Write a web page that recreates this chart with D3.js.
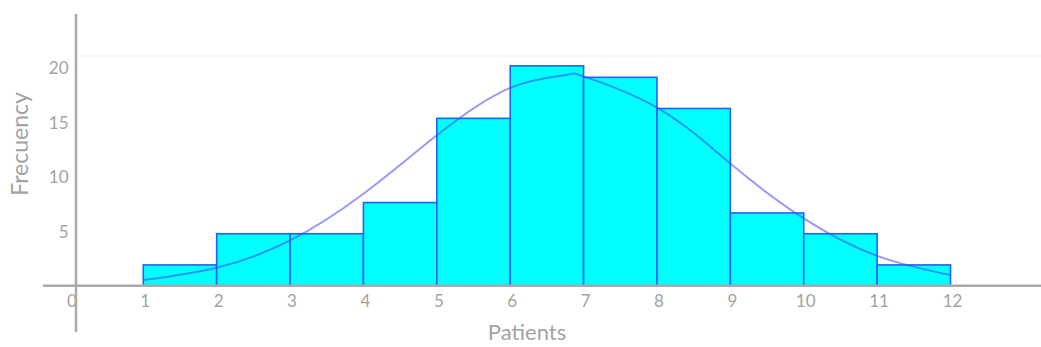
<!DOCTYPE html>
<html>
<head>
<meta charset="utf-8">
<script src="https://cdn.jsdelivr.net/npm/d3@7"></script>
<style>
  html, body { margin: 0; padding: 0; background: #ffffff; }
  svg { display: block; }
  text { font-family: Lato, "Open Sans", sans-serif; fill: #a3a3a3; }
</style>
</head>
<body>
<svg id="chart" width="1041" height="347"></svg>
<script>
// ---- data ----
const binStarts = [1, 2, 3, 4, 5, 6, 7, 8, 9, 10, 11];
const binEnds   = [2, 3, 4, 5, 6, 7, 8, 9, 10, 11, 12];
const frequencies = [1.9, 4.75, 4.75, 7.6, 15.3, 20.1, 19.05, 16.2, 6.65, 4.75, 1.9];

const curveX = [1, 2, 3, 4, 5, 6, 6.76, 7, 8, 9, 10, 11, 12];
const curveY = [0.52, 1.64, 4.14, 8.41, 13.75, 18.09, 19.26, 19.14, 16.29, 11.17, 6.15, 2.73, 0.97];

const xTickValues = [0, 1, 2, 3, 4, 5, 6, 7, 8, 9, 10, 11, 12];
const yTickValues = [5, 10, 15, 20];
const xTitle = "Patients";
const yTitle = "Frecuency";

// ---- layout ----
const svg = d3.select("#chart");
const x = d3.scaleLinear().domain([0, 12]).range([69.9, 950.5]);
const y = d3.scaleLinear().domain([0, 21]).range([285.7, 56]);
const axisX = 76;          // where the vertical axis line is drawn
const axisColor = "#aaaaaa";

// faint top gridline
svg.append("line")
  .attr("x1", axisX).attr("x2", 1041)
  .attr("y1", y(21)).attr("y2", y(21))
  .attr("stroke", "#f0f0f0").attr("stroke-width", 1);

// bars
const bins = binStarts.map((s, i) => ({ x0: s, x1: binEnds[i], v: frequencies[i] }));
svg.append("g").selectAll("rect").data(bins).join("rect")
  .attr("x", d => x(d.x0))
  .attr("y", d => y(d.v))
  .attr("width", d => x(d.x1) - x(d.x0))
  .attr("height", d => y(0) - y(d.v))
  .attr("fill", "#00ffff")
  .attr("stroke", "#1f62ff")
  .attr("stroke-width", 1.6);

// normal curve
const line = d3.line()
  .x((d, i) => x(curveX[i]))
  .y(d => y(d))
  .curve(d3.curveNatural);
svg.append("path")
  .attr("d", line(curveY))
  .attr("fill", "none")
  .attr("stroke", "rgba(70,70,240,0.55)")
  .attr("stroke-width", 2);

// x axis (line + labels)
svg.append("line")
  .attr("x1", 43).attr("x2", 1041)
  .attr("y1", y(0)).attr("y2", y(0))
  .attr("stroke", axisColor).attr("stroke-width", 2.5);

const xAxis = d3.axisBottom(x).tickValues(xTickValues).tickSize(0).tickPadding(0).tickFormat(d3.format("d"));
const gx = svg.append("g").attr("transform", `translate(1.5,${y(0) + 21})`).call(xAxis);
gx.select(".domain").remove();
gx.selectAll("text")
  .attr("dy", 0)
  .style("font-size", "17px")
  .style("fill", "#a3a3a3")
  .style("font-family", "Lato, 'Open Sans', sans-serif");

// y axis (line + labels)
svg.append("line")
  .attr("x1", axisX).attr("x2", axisX)
  .attr("y1", 14).attr("y2", 332)
  .attr("stroke", axisColor).attr("stroke-width", 2.5);

const yAxis = d3.axisLeft(y).tickValues(yTickValues).tickSize(0).tickPadding(0);
const gy = svg.append("g").attr("transform", `translate(68.5,1)`).call(yAxis);
gy.select(".domain").remove();
gy.selectAll("text")
  .style("font-size", "17px")
  .style("fill", "#a3a3a3")
  .style("font-family", "Lato, 'Open Sans', sans-serif");

// titles
svg.append("text")
  .attr("x", 527).attr("y", 340)
  .attr("text-anchor", "middle")
  .style("font-size", "22px")
  .text(xTitle);

svg.append("text")
  .attr("transform", "translate(28,144) rotate(-90)")
  .attr("text-anchor", "middle")
  .style("font-size", "23px")
  .text(yTitle);
</script>
</body>
</html>
